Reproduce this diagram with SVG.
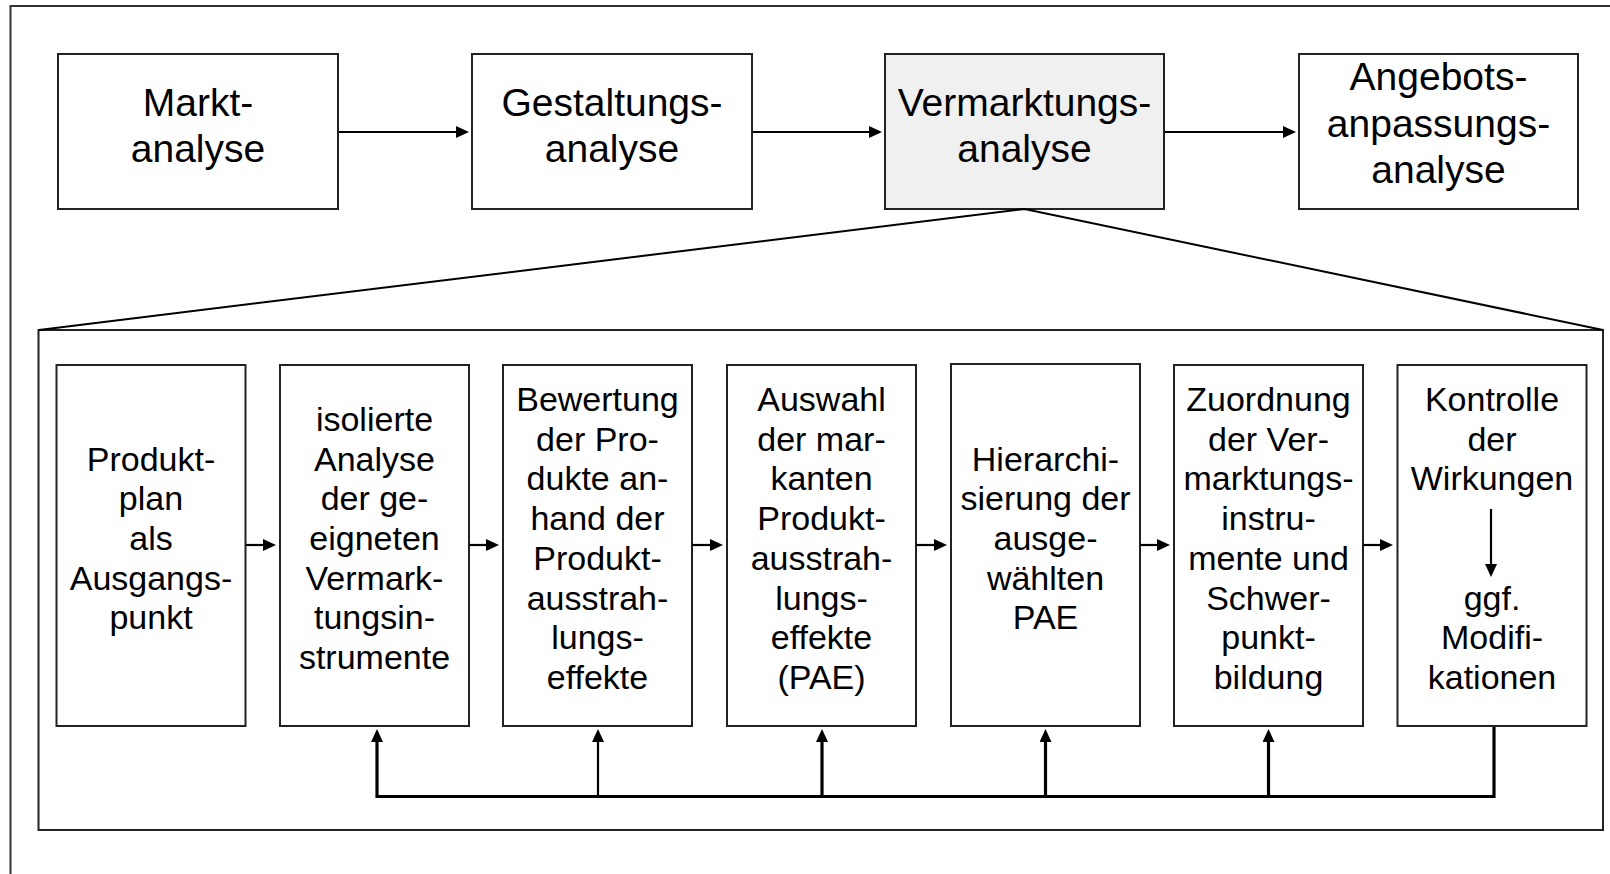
<svg xmlns="http://www.w3.org/2000/svg" width="1610" height="874" viewBox="0 0 1610 874">
<defs>
<style>
.frame{fill:none;stroke:#333;stroke-width:2}
.box{fill:#fff;stroke:#222;stroke-width:2}
.open{fill:none;stroke:#222;stroke-width:2}
.hl{fill:#f0f0f0}
.ln{fill:none;stroke:#000;stroke-width:2.2}
.fb{fill:none;stroke:#000;stroke-width:3.2}
.t1{font-family:"Liberation Sans",Arial,sans-serif;font-size:39px;fill:#000;text-anchor:middle}
.t2{font-family:"Liberation Sans",Arial,sans-serif;font-size:34px;fill:#000;text-anchor:middle}
</style>
<marker id="ah" markerUnits="userSpaceOnUse" viewBox="0 0 13 12" markerWidth="13" markerHeight="12" refX="5" refY="6" orient="auto">
<path d="M0,0 L13,6 L0,12 Z" fill="#000"/>
</marker>
</defs>
<rect width="1610" height="874" fill="#fff"/>
<rect class="frame" x="10.5" y="6" width="1620" height="900"/>

<g id="markt">
<rect class="box" x="58" y="54" width="280" height="155"/>
<text class="t1" x="198" y="115.5">Markt-</text>
<text class="t1" x="198" y="161.5">analyse</text>
</g>
<g id="gestaltung">
<rect class="box" x="472" y="54" width="280" height="155"/>
<text class="t1" x="612" y="115.5">Gestaltungs-</text>
<text class="t1" x="612" y="161.5">analyse</text>
</g>
<g id="vermarktung">
<rect class="box hl" x="885" y="54" width="279" height="155"/>
<text class="t1" x="1024.5" y="115.5">Vermarktungs-</text>
<text class="t1" x="1024.5" y="161.5">analyse</text>
</g>
<g id="angebot">
<rect class="box" x="1299" y="54" width="279" height="155"/>
<text class="t1" x="1438.5" y="90">Angebots-</text>
<text class="t1" x="1438.5" y="136.5">anpassungs-</text>
<text class="t1" x="1438.5" y="183">analyse</text>
</g>

<g id="detail">
<rect class="open" x="38.5" y="330" width="1564.5" height="500"/>
</g>

<g id="b1">
<rect class="box" x="56.5" y="365" width="189" height="361"/>
<text class="t2" x="151" y="470.5">Produkt-</text>
<text class="t2" x="151" y="510.2">plan</text>
<text class="t2" x="151" y="549.9">als</text>
<text class="t2" x="151" y="589.6">Ausgangs-</text>
<text class="t2" x="151" y="629.3">punkt</text>
</g>
<g id="b2">
<rect class="box" x="280" y="365" width="189" height="361"/>
<text class="t2" x="374.5" y="430.8">isolierte</text>
<text class="t2" x="374.5" y="470.5">Analyse</text>
<text class="t2" x="374.5" y="510.2">der ge-</text>
<text class="t2" x="374.5" y="549.9">eigneten</text>
<text class="t2" x="374.5" y="589.6">Vermark-</text>
<text class="t2" x="374.5" y="629.3">tungsin-</text>
<text class="t2" x="374.5" y="669">strumente</text>
</g>
<g id="b3">
<rect class="box" x="503" y="365" width="189" height="361"/>
<text class="t2" x="597.5" y="411">Bewertung</text>
<text class="t2" x="597.5" y="450.7">der Pro-</text>
<text class="t2" x="597.5" y="490.4">dukte an-</text>
<text class="t2" x="597.5" y="530.1">hand der</text>
<text class="t2" x="597.5" y="569.8">Produkt-</text>
<text class="t2" x="597.5" y="609.5">ausstrah-</text>
<text class="t2" x="597.5" y="649.2">lungs-</text>
<text class="t2" x="597.5" y="688.9">effekte</text>
</g>
<g id="b4">
<rect class="box" x="727" y="365" width="189" height="361"/>
<text class="t2" x="821.5" y="411">Auswahl</text>
<text class="t2" x="821.5" y="450.7">der mar-</text>
<text class="t2" x="821.5" y="490.4">kanten</text>
<text class="t2" x="821.5" y="530.1">Produkt-</text>
<text class="t2" x="821.5" y="569.8">ausstrah-</text>
<text class="t2" x="821.5" y="609.5">lungs-</text>
<text class="t2" x="821.5" y="649.2">effekte</text>
<text class="t2" x="821.5" y="688.9">(PAE)</text>
</g>
<g id="b5">
<rect class="box" x="951" y="364" width="189" height="362"/>
<text class="t2" x="1045.5" y="470.5">Hierarchi-</text>
<text class="t2" x="1045.5" y="510.2">sierung der</text>
<text class="t2" x="1045.5" y="549.9">ausge-</text>
<text class="t2" x="1045.5" y="589.6">wählten</text>
<text class="t2" x="1045.5" y="629.3">PAE</text>
</g>
<g id="b6">
<rect class="box" x="1174" y="365" width="189" height="361"/>
<text class="t2" x="1268.5" y="411">Zuordnung</text>
<text class="t2" x="1268.5" y="450.7">der Ver-</text>
<text class="t2" x="1268.5" y="490.4">marktungs-</text>
<text class="t2" x="1268.5" y="530.1">instru-</text>
<text class="t2" x="1268.5" y="569.8">mente und</text>
<text class="t2" x="1268.5" y="609.5">Schwer-</text>
<text class="t2" x="1268.5" y="649.2">punkt-</text>
<text class="t2" x="1268.5" y="688.9">bildung</text>
</g>
<g id="b7">
<rect class="box" x="1397.5" y="365" width="189" height="361"/>
<text class="t2" x="1492" y="411">Kontrolle</text>
<text class="t2" x="1492" y="450.7">der</text>
<text class="t2" x="1492" y="490.4">Wirkungen</text>
<text class="t2" x="1492" y="609.5">ggf.</text>
<text class="t2" x="1492" y="649.2">Modifi-</text>
<text class="t2" x="1492" y="688.9">kationen</text>
</g>

<g id="connectors">
<line class="ln" x1="339" y1="132" x2="461" y2="132" marker-end="url(#ah)"/>
<line class="ln" x1="753" y1="132" x2="874" y2="132" marker-end="url(#ah)"/>
<line class="ln" x1="1165" y1="132" x2="1288" y2="132" marker-end="url(#ah)"/>
<polyline fill="none" stroke="#000" stroke-width="2" points="39,330 1024.5,209 1603,330"/>
<line class="ln" x1="246" y1="545" x2="268" y2="545" marker-end="url(#ah)"/>
<line class="ln" x1="469" y1="545" x2="491" y2="545" marker-end="url(#ah)"/>
<line class="ln" x1="692" y1="545" x2="715" y2="545" marker-end="url(#ah)"/>
<line class="ln" x1="916" y1="545" x2="939" y2="545" marker-end="url(#ah)"/>
<line class="ln" x1="1140" y1="545" x2="1162" y2="545" marker-end="url(#ah)"/>
<line class="ln" x1="1363" y1="545" x2="1385" y2="545" marker-end="url(#ah)"/>
<polyline class="fb" points="1494,727 1494,796.5 377,796.5"/>
<line class="fb" x1="377" y1="798" x2="377" y2="737" marker-end="url(#ah)"/>
<line class="ln" x1="598" y1="796" x2="598" y2="737" marker-end="url(#ah)"/>
<line class="fb" x1="822" y1="798" x2="822" y2="737" marker-end="url(#ah)"/>
<line class="fb" x1="1045.5" y1="798" x2="1045.5" y2="737" marker-end="url(#ah)"/>
<line class="fb" x1="1268.5" y1="798" x2="1268.5" y2="737" marker-end="url(#ah)"/>
<line class="ln" x1="1491" y1="509" x2="1491" y2="569" marker-end="url(#ah)"/>
</g>
</svg>
